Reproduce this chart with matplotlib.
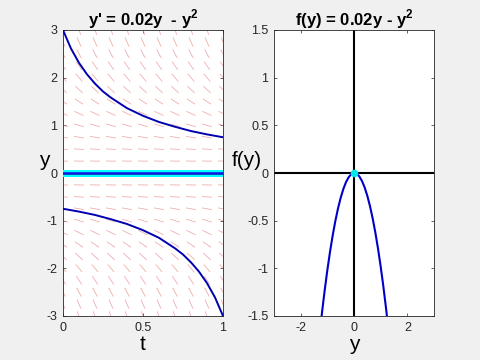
import numpy as np
import matplotlib
matplotlib.use('Agg')
import matplotlib.pyplot as plt
from matplotlib.collections import LineCollection

# slope field rows (y levels) and the slope read for each row
field_y = [-3, -2.75, -2.5, -2.25, -2, -1.75, -1.5, -1.25, -1, -0.75, -0.5, -0.25, 0,
           0.25, 0.5, 0.75, 1, 1.25, 1.5, 1.75, 2, 2.25, 2.5, 2.75, 3]
field_slope = [-9.06, -7.62, -6.3, -5.11, -4.04, -3.1, -2.28, -1.59, -1.02, -0.58, -0.26, -0.07, 0,
               -0.06, -0.24, -0.55, -0.98, -1.54, -2.22, -3.03, -3.96, -5.02, -6.2, -7.51, -8.94]
field_t = [0, 0.1, 0.2, 0.3, 0.4, 0.5, 0.6, 0.7, 0.8, 0.9, 1.0]

# solution curves
sol_t = [0, 0.05, 0.1, 0.15, 0.2, 0.25, 0.3, 0.4, 0.5, 0.6, 0.7, 0.8, 0.9, 1.0]
sol_upper = [3.0, 2.61, 2.31, 2.07, 1.875, 1.71, 1.58, 1.36, 1.2, 1.07, 0.97, 0.88, 0.81, 0.75]
sol_t2 = [0, 0.1, 0.2, 0.3, 0.4, 0.5, 0.6, 0.7, 0.75, 0.8, 0.85, 0.9, 0.95, 1.0]
sol_lower = [-0.75, -0.81, -0.88, -0.97, -1.07, -1.2, -1.36, -1.58, -1.71, -1.875, -2.07, -2.31, -2.61, -3.0]

# f(y) curve
fy_y = [-1.3, -1.2, -1.1, -1.0, -0.9, -0.8, -0.7, -0.6, -0.5, -0.4, -0.3, -0.2, -0.1, 0,
        0.1, 0.2, 0.3, 0.4, 0.5, 0.6, 0.7, 0.8, 0.9, 1.0, 1.1, 1.2, 1.3]
fy_f = [-1.716, -1.464, -1.232, -1.02, -0.828, -0.656, -0.504, -0.372, -0.26, -0.168, -0.096, -0.044, -0.012, 0,
        -0.008, -0.036, -0.084, -0.152, -0.24, -0.348, -0.476, -0.624, -0.792, -0.98, -1.188, -1.416, -1.664]

plt.rcParams['font.family'] = ['Liberation Sans', 'DejaVu Sans']
plt.rcParams['mathtext.fontset'] = 'custom'
plt.rcParams['mathtext.rm'] = 'Liberation Sans'
plt.rcParams['mathtext.bf'] = 'Liberation Sans:bold'
plt.rcParams['xtick.direction'] = 'in'
plt.rcParams['ytick.direction'] = 'in'
plt.rcParams['axes.unicode_minus'] = False

fig = plt.figure(figsize=(4.8, 3.6), dpi=100, facecolor='#f0f0f0')
ax1 = fig.add_axes([63/480, 1-316/360, 160/480, 286/360])
ax2 = fig.add_axes([274/480, 1-316/360, 160/480, 286/360])

for ax in (ax1, ax2):
    for s in ax.spines.values():
        s.set_color('#262626')
        s.set_linewidth(0.6)
    ax.tick_params(colors='#262626', labelsize=9, length=2.5, width=0.5,
                   top=True, right=True, pad=4)

# slope field
px_t = 160 / 1.0
px_y = 286 / 6.0
seg_len = 10.0
segs = []
for yv, sv in zip(field_y, field_slope):
    th = np.arctan(sv * px_y / px_t)
    dt = 0.5 * seg_len * np.cos(th) / px_t
    dy = 0.5 * seg_len * np.sin(th) / px_y
    for tv in field_t:
        segs.append([(tv - dt, yv - dy), (tv + dt, yv + dy)])
ax1.add_collection(LineCollection(segs, colors=(0.93, 0.6, 0.6), linewidths=0.6, alpha=0.8))

ax1.axhline(0, color='#00ffff', lw=5, zorder=3)
ax1.axhline(-0.03, color='#33dd66', lw=0.6, zorder=3)
ax1.axhline(0, color='#1010e0', lw=1.8, zorder=4)
ax1.plot(sol_t, sol_upper, color='#0000b0', lw=1.4, zorder=4)
ax1.plot(sol_t2, sol_lower, color='#0000b0', lw=1.4, zorder=4)

ax1.set_xlim(0, 1)
ax1.set_ylim(-3, 3)
ax1.set_xticks([0, 0.5, 1])
ax1.set_xticklabels(['0', '0.5', '1'])
ax1.set_yticks([-3, -2, -1, 0, 1, 2, 3])
ax1.set_xlabel('t', fontsize=15, labelpad=1)
ax1.set_ylabel('y', fontsize=15, rotation=0, va='center', ha='center')
ax1.yaxis.set_label_coords(-0.12, 0.545)
ax1.set_title(r"y' = 0.02y  - y$^{\mathbf{2}}$", fontsize=12, fontweight='bold', pad=3)

# f(y) plot
ax2.axhline(0, color='black', lw=1.5, zorder=2)
ax2.axvline(0, color='black', lw=1.5, zorder=2)
ax2.plot(fy_y, fy_f, color='#0000c8', lw=1.5, zorder=3)
ax2.plot([0], [0], 'o', color='#00e8e8', ms=4.5, zorder=4)
ax2.set_xlim(-3, 3)
ax2.set_ylim(-1.5, 1.5)
ax2.set_xticks([-2, 0, 2])
ax2.set_yticks([-1.5, -1, -0.5, 0, 0.5, 1, 1.5])
ax2.set_yticklabels(['-1.5', '-1', '-0.5', '0', '0.5', '1', '1.5'])
ax2.set_xlabel('y', fontsize=15, labelpad=1)
ax2.set_ylabel('f(y)', fontsize=15, rotation=0, va='center', ha='center')
ax2.yaxis.set_label_coords(-0.17, 0.545)
ax2.set_title(r"f(y) = 0.02y - y$^{\mathbf{2}}$", fontsize=12, fontweight='bold', pad=3)

plt.savefig('out.png', dpi=100, facecolor=fig.get_facecolor())
